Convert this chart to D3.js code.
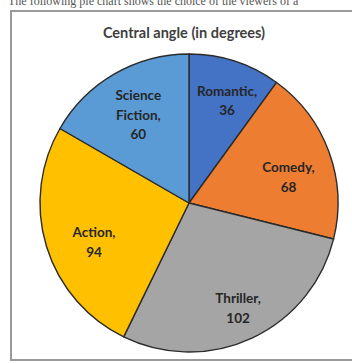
<!DOCTYPE html>
<html>
<head>
<meta charset="utf-8">
<script src="https://cdn.jsdelivr.net/npm/d3@7/dist/d3.min.js"></script>
<style>
  html, body { margin: 0; padding: 0; background: #ffffff; }
  svg { display: block; }
</style>
</head>
<body>
<script>
// Genre shares, expressed as central angles of the pie (sum = 360)
const genres = ["Romantic", "Comedy", "Thriller", "Action", "Science Fiction"];
const angles = [36, 68, 102, 94, 60];
const colors = ["#4472C4", "#ED7D31", "#A5A5A5", "#FFC000", "#5B9BD5"];
const title = "Central angle (in degrees)";

const W = 352, H = 363;
const cx = 189, cy = 203, R = 149;
// label placement per slice: distance (fraction of radius) and angular nudge (degrees)
const labelFrac = [0.73, 0.69, 0.78, 0.69, 0.68];
const labelNudge = [2.5, 5.5, 0, -5.5, 0];

const svg = d3.select("body").append("svg")
  .attr("width", W).attr("height", H);

// surrounding text line, cut off at the top
svg.append("text")
  .attr("x", 8).attr("y", 5)
  .attr("font-family", "Liberation Serif, serif")
  .attr("font-size", 12)
  .attr("fill", "#555")
  .text("The following pie chart shows the choice of the viewers of a");

// chart frame
svg.append("rect")
  .attr("x", 11).attr("y", 11)
  .attr("width", 350).attr("height", 349)
  .attr("fill", "#fff")
  .attr("stroke", "#9a9a9a")
  .attr("stroke-width", 2);

svg.append("text")
  .attr("x", 184).attr("y", 38)
  .attr("text-anchor", "middle")
  .attr("font-family", "Lato, 'Open Sans', sans-serif")
  .attr("font-weight", "bold")
  .attr("font-size", 14.5)
  .attr("fill", "#404040")
  .text(title);

const data = genres.map((g, i) => ({ genre: g, value: angles[i], color: colors[i], i }));

const pie = d3.pie().value(d => d.value).sort(null);
const arc = d3.arc().innerRadius(0).outerRadius(R);
const arcs = pie(data);

const g = svg.append("g").attr("transform", `translate(${cx},${cy})`);

g.selectAll("path.slice")
  .data(arcs)
  .join("path")
  .attr("class", "slice")
  .attr("d", arc)
  .attr("fill", d => d.data.color)
  .attr("stroke", "#2b2b2b")
  .attr("stroke-width", 1.4)
  .attr("stroke-linejoin", "round");

// label lines: genre name (wrapped) followed by the value
function labelLines(d) {
  if (d.data.genre === "Science Fiction") return ["Science", "Fiction,", String(d.data.value)];
  return [d.data.genre + ",", String(d.data.value)];
}

const lineH = 19.5;
arcs.forEach(d => {
  const i = d.data.i;
  const r = R * labelFrac[i];
  const a = (d.startAngle + d.endAngle) / 2 + labelNudge[i] * Math.PI / 180;
  const x = r * Math.sin(a), y = -r * Math.cos(a);
  const lines = labelLines(d);
  const t = g.append("text")
    .attr("text-anchor", "middle")
    .attr("font-family", "Lato, 'Open Sans', sans-serif")
    .attr("font-weight", "bold")
    .attr("font-size", 13.5)
    .attr("fill", "#262626");
  lines.forEach((ln, k) => {
    t.append("tspan")
      .attr("x", x)
      .attr("y", y + (k - (lines.length - 1) / 2) * lineH + 4.5)
      .text(ln);
  });
});
</script>
</body>
</html>
